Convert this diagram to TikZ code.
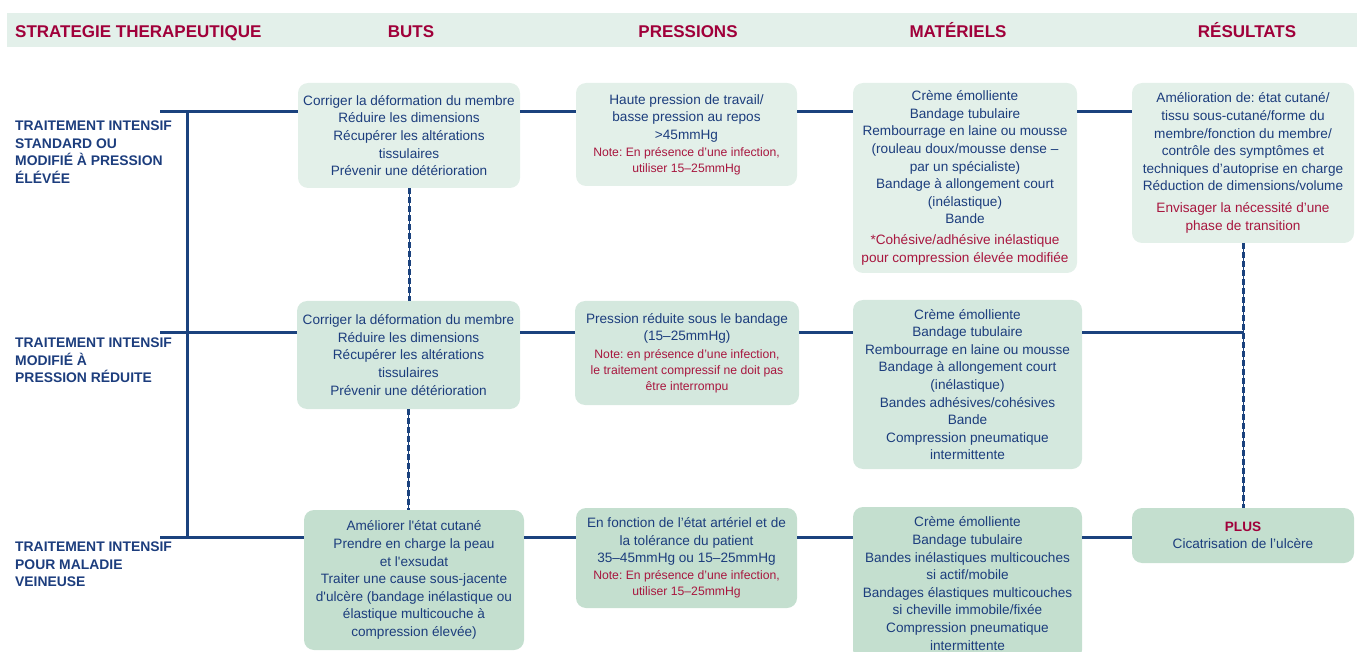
\documentclass[tikz,border=0pt]{standalone}
\usepackage{fontspec}
\setmainfont{Liberation Sans}
\definecolor{navy}{HTML}{1C3D7D}
\definecolor{lineblue}{HTML}{1B427E}
\definecolor{hred}{HTML}{A0003A}
\definecolor{nred}{HTML}{A8173F}
\definecolor{fillA}{HTML}{E3F0E9}
\definecolor{fillB}{HTML}{D4E8DE}
\definecolor{fillC}{HTML}{C4DFCF}
\definecolor{band}{HTML}{E3F0EA}
\newcommand\bxf{\fontsize{13.6}{17.6}\selectfont}
\newcommand\smf{\fontsize{12.2}{16}\selectfont}
\newcommand\nt[1]{{\smf\color{nred}#1}}
\newcommand\rd[1]{{\color{nred}#1}}
\frenchspacing
\begin{document}
\begin{tikzpicture}[x=1pt,y=-1pt,
 box/.style={rounded corners=10pt, inner sep=0pt, align=center, font=\bxf, text=navy},
 conn/.style={draw=lineblue, line width=3pt},
 dconn/.style={draw=lineblue, line width=3pt, dash pattern=on 6pt off 3pt},
 thinline/.style={draw=lineblue, line width=1pt},
 hdr/.style={font=\fontsize{17}{20}\selectfont\bfseries, text=hred, inner sep=0pt, anchor=base},
 lab/.style={font=\fontsize{13.9}{17.4}\selectfont\bfseries, text=navy, align=left, inner sep=0pt, anchor=north west}]
\clip (0,0) rectangle (1357,652);
% header band
\fill[band] (7,13) rectangle (1357,47);
\node[hdr, anchor=base west] (h0) at (15,38) {STRATEGIE THERAPEUTIQUE};
\node[hdr] (h1) at (411,38) {BUTS};
\node[hdr] (h2) at (688,38) {PRESSIONS};
\node[hdr] (h3) at (958,38) {MATÉRIELS};
\node[hdr] (h4) at (1247,38) {RÉSULTATS};
% row labels
\node[lab] (l1) at (15,121) {TRAITEMENT INTENSIF\\STANDARD OU\\MODIFIÉ À PRESSION\\ÉLÉVÉE};
\node[lab] (l2) at (15,338) {TRAITEMENT INTENSIF\\MODIFIÉ À\\PRESSION RÉDUITE};
\node[lab] (l3) at (15,542) {TRAITEMENT INTENSIF\\POUR MALADIE\\VEINEUSE};
% boxes row 1
\node[box, fill=fillA, minimum width=222pt, minimum height=105pt] (b1) at (409,135.5)
 {Corriger la déformation du membre\\Réduire les dimensions\\Récupérer les altérations\\tissulaires\\Prévenir une détérioration};
\node[box, fill=fillA, minimum width=221pt, minimum height=103pt] (p1) at (686.5,134.5)
 {Haute pression de travail/\\basse pression au repos\\>45mmHg\\[-1pt]\nt{Note: En présence d’une infection,}\\[-1.5pt]\nt{utiliser 15–25mmHg}};
\node[box, fill=fillA, minimum width=224pt, minimum height=190pt] (m1) at (965,178)
 {Crème émolliente\\Bandage tubulaire\\Rembourrage en laine ou mousse\\(rouleau doux/mousse dense –\\par un spécialiste)\\Bandage à allongement court\\(inélastique)\\Bande\\[3.5pt]\rd{*Cohésive/adhésive inélastique}\\\rd{pour compression élevée modifiée}};
\node[box, fill=fillA, minimum width=222pt, minimum height=160pt] (s1) at (1243,163)
 {Amélioration de: état cutané/\\tissu sous-cutané/forme du\\membre/fonction du membre/\\contrôle des symptômes et\\techniques d’autoprise en charge\\Réduction de dimensions/volume\\[4pt]\rd{Envisager la nécessité d’une}\\\rd{phase de transition}};
% boxes row 2
\node[box, fill=fillB, minimum width=223pt, minimum height=108pt] (b2) at (408.5,355)
 {Corriger la déformation du membre\\Réduire les dimensions\\Récupérer les altérations\\tissulaires\\Prévenir une détérioration};
\node[box, fill=fillB, minimum width=224pt, minimum height=104pt] (p2) at (687,353)
 {Pression réduite sous le bandage\\(15–25mmHg)\\[0pt]\nt{Note: en présence d’une infection,}\\[-1.5pt]\nt{le traitement compressif ne doit pas}\\[-1.5pt]\nt{être interrompu}};
\node[box, fill=fillB, minimum width=229pt, minimum height=169pt] (m2) at (967.5,384.5)
 {Crème émolliente\\Bandage tubulaire\\Rembourrage en laine ou mousse\\Bandage à allongement court\\(inélastique)\\Bandes adhésives/cohésives\\Bande\\Compression pneumatique\\intermittente};
% boxes row 3
\node[box, fill=fillC, minimum width=220pt, minimum height=140pt] (b3) at (414,580)
 {Améliorer l\textquotesingle état cutané\\Prendre en charge la peau\\et l\textquotesingle exsudat\\Traiter une cause sous-jacente\\d\textquotesingle ulcère (bandage inélastique ou\\élastique multicouche à\\compression élevée)};
\node[box, fill=fillC, minimum width=221pt, minimum height=100pt] (p3) at (686.5,558)
 {En fonction de l’état artériel et de\\la tolérance du patient\\35–45mmHg ou 15–25mmHg\\[-1pt]\nt{Note: En présence d’une infection,}\\[-1.5pt]\nt{utiliser 15–25mmHg}};
\node[box, fill=fillC, minimum width=229pt, minimum height=153pt] (m3) at (967.5,583.5)
 {Crème émolliente\\Bandage tubulaire\\Bandes inélastiques multicouches\\si actif/mobile\\Bandages élastiques multicouches\\si cheville immobile/fixée\\Compression pneumatique\\intermittente};
\node[box, fill=fillC, minimum width=222pt, minimum height=55pt] (s3) at (1243,535.5)
 {{\bfseries\color{hred}PLUS}\\Cicatrisation de l’ulcère};
% connectors
\coordinate (r1) at (160,112);
\coordinate (r2) at (160,332);
\coordinate (r3) at (160,537);
\coordinate (v1) at (187,112);
\coordinate (v3) at (187,537);
\draw[conn] (v1) -- (v3);
\draw[conn] (r1) -- (r1 -| b1.west);
\draw[conn] (r2) -- (r2 -| b2.west);
\draw[conn] (r3) -- (r3 -| b3.west);
\draw[conn] (b1.east |- r1) -- (p1.west |- r1);
\draw[conn] (p1.east |- r1) -- (m1.west |- r1);
\draw[conn] (m1.east |- r1) -- (s1.west |- r1);
\draw[conn] (b2.east |- r2) -- (p2.west |- r2);
\draw[conn] (p2.east |- r2) -- (m2.west |- r2);
\draw[conn] (m2.east |- r2) -- (s1.south |- r2);
\draw[conn] (b3.east |- r3) -- (p3.west |- r3);
\draw[conn] (p3.east |- r3) -- (m3.west |- r3);
\draw[conn] (m3.east |- r3) -- (s3.west |- r3);
% dashed links
\draw[thinline] (b1.south) -- (b1.south |- b2.north);
\draw[dconn] (b1.south) -- (b1.south |- b2.north);
\draw[thinline] (b2.south) -- (b2.south |- b3.north);
\draw[dconn] (b2.south) -- (b2.south |- b3.north);
\draw[thinline] (s1.south) -- (s3.north);
\draw[dconn] (s1.south) -- (s3.north);
\end{tikzpicture}
\end{document}
